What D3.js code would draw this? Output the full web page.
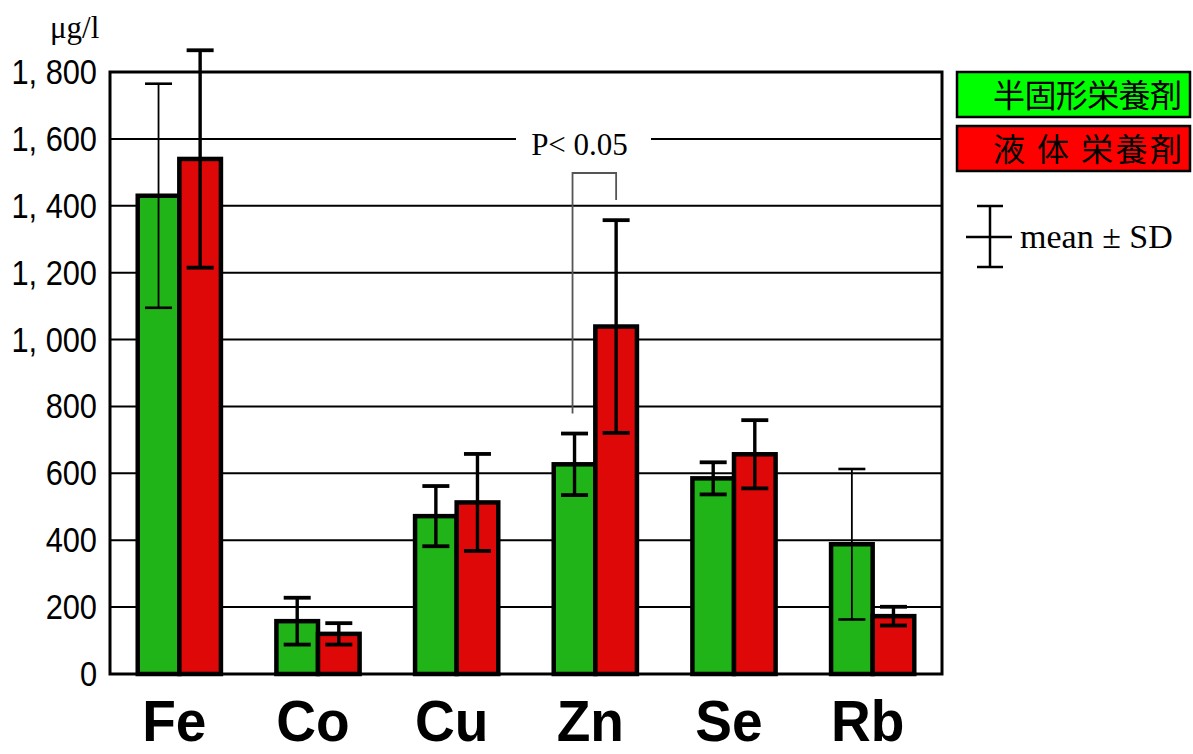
<!DOCTYPE html>
<html>
<head>
<meta charset="utf-8">
<script src="https://cdn.jsdelivr.net/npm/d3@7"></script>
<style>
  body { margin: 0; background: #fff; }
  svg { display: block; }
</style>
</head>
<body>
<div id="vis"></div>
<script>

// data (µg/l, mean and SD)
const elements = ["Fe", "Co", "Cu", "Zn", "Se", "Rb"];
const seriesNames = ["半固形栄養剤", "液 体 栄養剤"];
const solidMean = [1430, 158, 472, 627, 585, 388];
const solidSD = [335, 70, 90, 92, 48, 225];
const liquidMean = [1540, 120, 513, 1039, 657, 173];
const liquidSD = [325, 32, 145, 318, 102, 28];
const yTicks = [0, 200, 400, 600, 800, 1000, 1200, 1400, 1600, 1800];

const width = 1193, height = 754;
const margin = { top: 72, right: 251, bottom: 80, left: 110 };

const barFill = ["#21b418", "#de0808"];
const legendFill = ["#00ff00", "#ff0000"];
// error bars drawn with a thin stem in the original
const thinStem = new Set(["Fe-0", "Rb-0"]);

const rows = elements.map((el, i) => ({
  el,
  values: [
    { s: 0, mean: solidMean[i], sd: solidSD[i] },
    { s: 1, mean: liquidMean[i], sd: liquidSD[i] }
  ]
}));

const svg = d3.select("#vis").append("svg")
  .attr("width", width)
  .attr("height", height);

const x0 = d3.scaleBand()
  .domain(elements)
  .range([margin.left, width - margin.right])
  .paddingInner(0.4)
  .paddingOuter(0.2);

const x1 = d3.scaleBand()
  .domain([0, 1])
  .range([0, x0.bandwidth()]);

const y = d3.scaleLinear()
  .domain([0, 1800])
  .range([height - margin.bottom, margin.top]);

////////////// grid ///////////////
const pText = { x1: 516, x2: 651 }; // gap left in the 1,600 line for the P label
const grid = svg.append("g");
yTicks.filter(d => d > 0 && d < 1800).forEach(t => {
  if (t === 1600) {
    grid.append("line").attr("x1", margin.left).attr("x2", pText.x1)
      .attr("y1", y(t)).attr("y2", y(t));
    grid.append("line").attr("x1", pText.x2).attr("x2", width - margin.right)
      .attr("y1", y(t)).attr("y2", y(t));
  } else {
    grid.append("line").attr("x1", margin.left).attr("x2", width - margin.right)
      .attr("y1", y(t)).attr("y2", y(t));
  }
});
grid.selectAll("line").attr("stroke", "#000").attr("stroke-width", 2);

////////////// y labels ///////////////
svg.append("g")
  .selectAll("text")
  .data(yTicks)
  .join("text")
  .attr("transform", d => `translate(97,${y(d) + 12}) scale(0.88,1)`)
  .attr("text-anchor", "end")
  .attr("font-family", "'Liberation Sans', Arial, sans-serif")
  .attr("font-size", 35)
  .attr("fill", "#000")
  .text(d => d3.format(",")(d).replace(",", ", "));

svg.append("text")
  .attr("x", 50)
  .attr("y", 38)
  .attr("font-family", "'Liberation Serif', serif")
  .attr("font-size", 31)
  .text("μg/l");

////////////// bars ///////////////
const groups = svg.append("g")
  .selectAll("g")
  .data(rows)
  .join("g")
  .attr("transform", d => `translate(${x0(d.el)},0)`);

groups.selectAll("rect")
  .data(d => d.values)
  .join("rect")
  .attr("x", d => x1(d.s))
  .attr("y", d => y(d.mean))
  .attr("width", x1.bandwidth())
  .attr("height", d => y(0) - y(d.mean))
  .attr("fill", d => barFill[d.s])
  .attr("stroke", "#000")
  .attr("stroke-width", 4.5);

// error bars
const capW = 27;
groups.each(function (row) {
  const g = d3.select(this);
  row.values.forEach(v => {
    const cx = x1(v.s) + x1.bandwidth() / 2;
    const thin = thinStem.has(`${row.el}-${v.s}`);
    const eb = g.append("g").attr("stroke", "#000");
    eb.append("line")
      .attr("x1", cx).attr("x2", cx)
      .attr("y1", y(v.mean + v.sd)).attr("y2", y(v.mean - v.sd))
      .attr("stroke-width", thin ? 1.8 : 3.4);
    [v.mean + v.sd, v.mean - v.sd].forEach(e => {
      eb.append("line")
        .attr("x1", cx - capW / 2).attr("x2", cx + capW / 2)
        .attr("y1", y(e)).attr("y2", y(e))
        .attr("stroke-width", thin ? 2.6 : 3.8);
    });
  });
});

////////////// frame ///////////////
svg.append("rect")
  .attr("x", margin.left)
  .attr("y", margin.top)
  .attr("width", width - margin.left - margin.right)
  .attr("height", height - margin.top - margin.bottom)
  .attr("fill", "none")
  .attr("stroke", "#000")
  .attr("stroke-width", 3);

////////////// x labels ///////////////
svg.append("g")
  .selectAll("text")
  .data(elements)
  .join("text")
  .attr("transform", d => `translate(${x0(d) + x0.bandwidth() / 2 - 5},741) scale(0.95,1)`)
  .attr("text-anchor", "middle")
  .attr("font-family", "'Liberation Sans', Arial, sans-serif")
  .attr("font-weight", "bold")
  .attr("font-size", 58)
  .text(d => d);

////////////// significance ///////////////
const zn = rows[3];
const zl = x0("Zn") + x1(0) + x1.bandwidth() / 2 - 2;
const zr = x0("Zn") + x1(1) + x1.bandwidth() / 2;
svg.append("path")
  .attr("d", `M${zl},${y(zn.values[0].mean + zn.values[0].sd) - 20}V173H${zr}V200`)
  .attr("fill", "none")
  .attr("stroke", "#555")
  .attr("stroke-width", 1.8);

svg.append("text")
  .attr("x", (pText.x1 + pText.x2) / 2 - 4)
  .attr("y", 155)
  .attr("text-anchor", "middle")
  .attr("font-family", "'Liberation Serif', serif")
  .attr("font-size", 31)
  .text("P< 0.05");

////////////// legend ///////////////
const legend = svg.append("g");
seriesNames.forEach((name, i) => {
  const ly = 72 + i * 54;
  legend.append("rect")
    .attr("x", 957).attr("y", ly)
    .attr("width", 233).attr("height", 45)
    .attr("fill", legendFill[i])
    .attr("stroke", "#000")
    .attr("stroke-width", 2.5);
  legend.append("text")
    .attr("x", 993).attr("y", ly + 35)
    .attr("textLength", 189)
    .attr("lengthAdjust", "spacing")
    .attr("font-family", "'Noto Sans CJK JP', sans-serif")
    .attr("font-size", 32)
    .attr("xml:space", "preserve")
    .style("white-space", "pre")
    .text(name);
});

const sym = legend.append("g").attr("stroke", "#000").attr("stroke-width", 2.5);
sym.append("line").attr("x1", 990).attr("x2", 990).attr("y1", 206).attr("y2", 267);
sym.append("line").attr("x1", 977).attr("x2", 1003).attr("y1", 206).attr("y2", 206);
sym.append("line").attr("x1", 977).attr("x2", 1003).attr("y1", 267).attr("y2", 267);
sym.append("line").attr("x1", 966).attr("x2", 1012).attr("y1", 237).attr("y2", 237);
legend.append("text")
  .attr("x", 1020).attr("y", 248)
  .attr("font-family", "'Liberation Serif', serif")
  .attr("font-size", 34)
  .text("mean ± SD");

</script>
</body>
</html>
